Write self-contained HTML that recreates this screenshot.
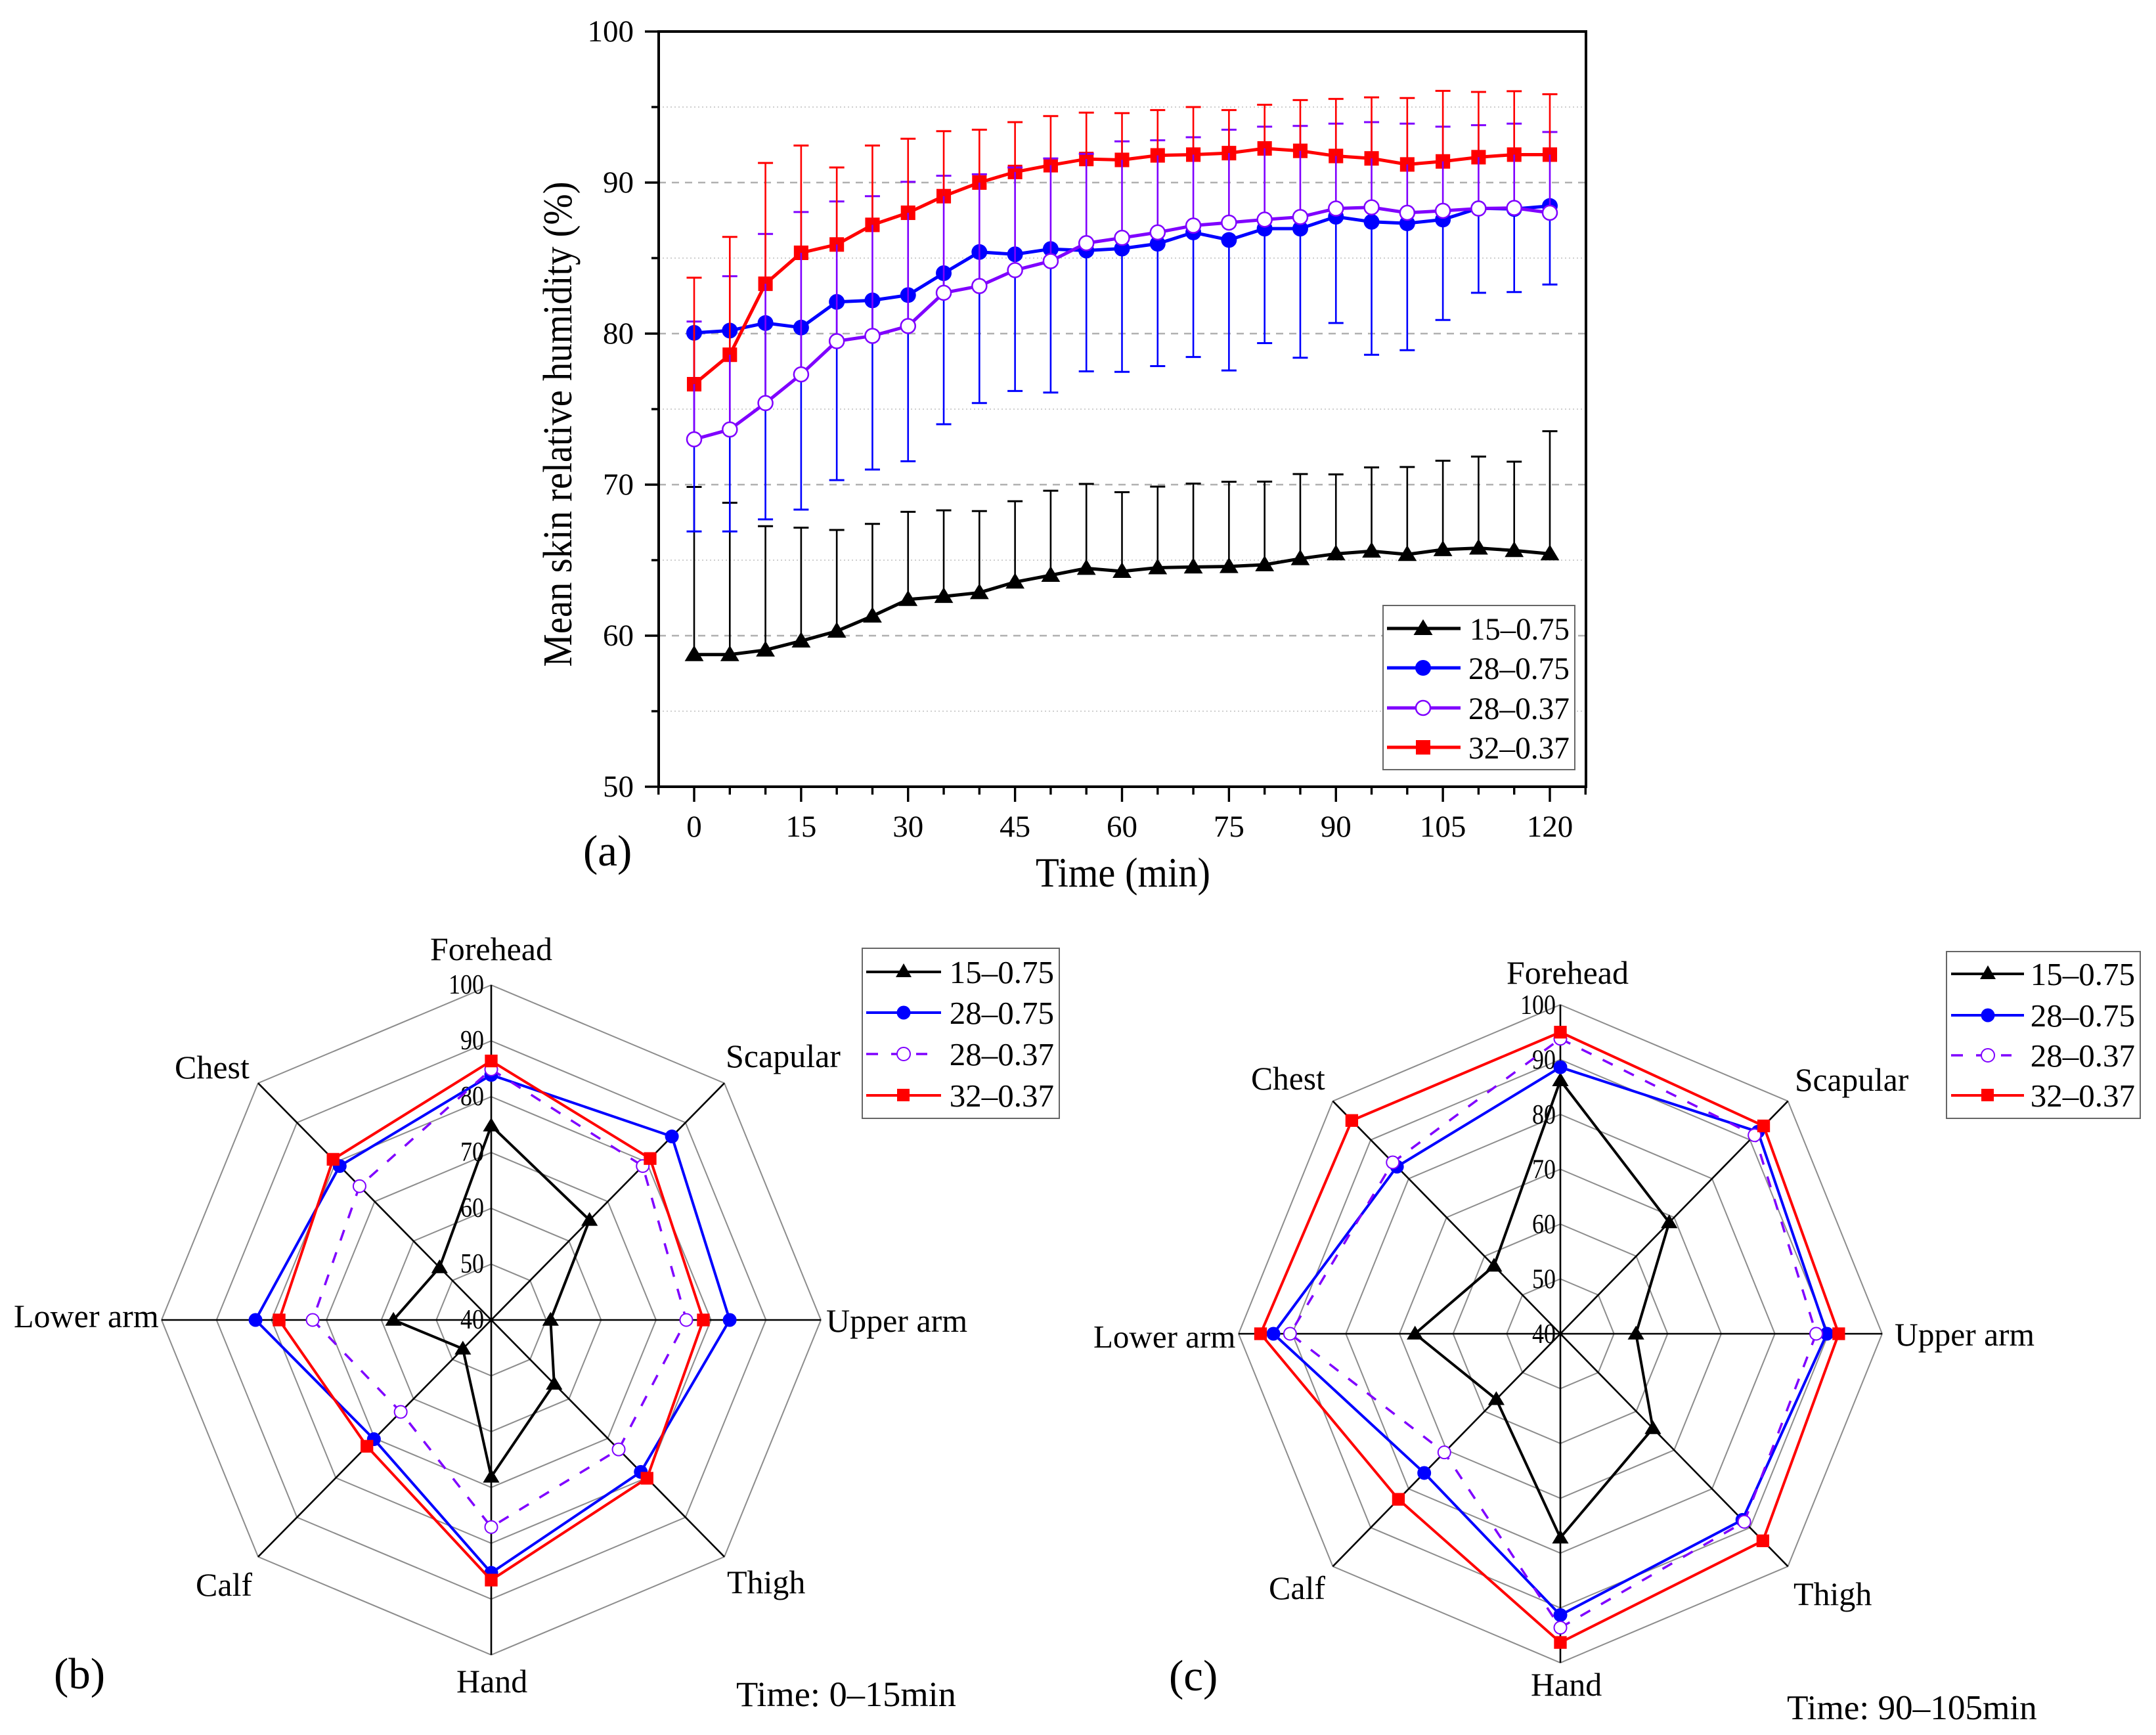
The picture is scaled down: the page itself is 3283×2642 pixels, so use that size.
<!DOCTYPE html>
<html lang="en">
<head>
<meta charset="utf-8">
<title>Mean skin relative humidity</title>
<style>
html,body{margin:0;padding:0;background:#fff}
svg{display:block}
text{font-family:"Liberation Serif",serif;fill:#000}
</style>
</head>
<body>
<svg id="figure" xmlns="http://www.w3.org/2000/svg" width="3283" height="2642" viewBox="0 0 3283 2642">
  <rect x="0" y="0" width="3283" height="2642" fill="#fff"/>

  <g id="panel-a"></g>
  <text transform="translate(870,646) rotate(-90)" text-anchor="middle" font-size="62" textLength="739" lengthAdjust="spacingAndGlyphs">Mean skin relative humidity (%)</text>
  <text x="1710" y="1350" text-anchor="middle" font-size="63" textLength="266" lengthAdjust="spacingAndGlyphs">Time (min)</text>
  <text x="888" y="1318" font-size="67">(a)</text>

  <g>
    <rect x="2106" y="922" width="292" height="250" fill="#fff" stroke="#666" stroke-width="2"/>
    <g>
      <line x1="2112" x2="2224" y1="957" y2="957" stroke="#000" stroke-width="5"/>
      <polygon points="2167,943 2181.5,967 2152.5,967" fill="#000"/>
      <text x="2390" y="974" text-anchor="end" font-size="48" textLength="152" lengthAdjust="spacingAndGlyphs">15–0.75</text>
    </g>
    <g>
      <line x1="2112" x2="2224" y1="1017" y2="1017" stroke="#00f" stroke-width="5"/>
      <ellipse cx="2167" cy="1017" rx="12" ry="12" fill="#00f"/>
      <text x="2390" y="1034" text-anchor="end" font-size="48" textLength="154" lengthAdjust="spacingAndGlyphs">28–0.75</text>
    </g>
    <g>
      <line x1="2112" x2="2224" y1="1078" y2="1078" stroke="#7f00ff" stroke-width="5"/>
      <ellipse cx="2167" cy="1078" rx="11" ry="11" fill="#fff" stroke="#7f00ff" stroke-width="2.5"/>
      <text x="2390" y="1095" text-anchor="end" font-size="48" textLength="154" lengthAdjust="spacingAndGlyphs">28–0.37</text>
    </g>
    <g>
      <line x1="2112" x2="2224" y1="1138" y2="1138" stroke="#f00" stroke-width="5"/>
      <rect x="2156" y="1127" width="22" height="22" fill="#f00"/>
      <text x="2390" y="1155" text-anchor="end" font-size="48" textLength="154" lengthAdjust="spacingAndGlyphs">32–0.37</text>
    </g>
  </g>

  <g id="panel-b"></g>
  <text x="748" y="1462" text-anchor="middle" font-size="50">Forehead</text>
  <text x="1105" y="1625" font-size="50">Scapular</text>
  <text x="1258" y="2028" font-size="50">Upper arm</text>
  <text x="1107" y="2426" font-size="50">Thigh</text>
  <text x="695" y="2577" font-size="50">Hand</text>
  <text x="298" y="2430" font-size="50">Calf</text>
  <text x="21" y="2021" font-size="50">Lower arm</text>
  <text x="266" y="1642" font-size="50">Chest</text>
  <text x="82" y="2571" font-size="67">(b)</text>
  <text x="1121" y="2598" font-size="54.4">Time: 0–15min</text>

  <g>
    <rect x="1313" y="1444" width="300" height="259" fill="#fff" stroke="#666" stroke-width="2"/>
    <g>
      <line x1="1319" x2="1433" y1="1480" y2="1480" stroke="#000" stroke-width="4"/>
      <polygon points="1376,1467 1388,1488 1364,1488" fill="#000"/>
      <text x="1605" y="1497" text-anchor="end" font-size="49">15–0.75</text>
    </g>
    <g>
      <line x1="1319" x2="1433" y1="1542" y2="1542" stroke="#00f" stroke-width="4"/>
      <circle cx="1376" cy="1542" r="10.5" fill="#00f"/>
      <text x="1605" y="1559" text-anchor="end" font-size="49">28–0.75</text>
    </g>
    <g>
      <line x1="1319" x2="1412" y1="1605" y2="1605" stroke="#7f00ff" stroke-width="3.5" stroke-dasharray="18 20"/>
      <circle cx="1376" cy="1605" r="10" fill="#fff" stroke="#7f00ff" stroke-width="2"/>
      <text x="1605" y="1622" text-anchor="end" font-size="49">28–0.37</text>
    </g>
    <g>
      <line x1="1319" x2="1433" y1="1668" y2="1668" stroke="#f00" stroke-width="4"/>
      <rect x="1366" y="1658" width="19" height="19" fill="#f00"/>
      <text x="1605" y="1685" text-anchor="end" font-size="49">32–0.37</text>
    </g>
  </g>

  <g id="panel-c"></g>
  <text x="2387" y="1498" text-anchor="middle" font-size="50">Forehead</text>
  <text x="2733" y="1661" font-size="49.5">Scapular</text>
  <text x="2885" y="2049" font-size="49.5">Upper arm</text>
  <text x="2731" y="2444" font-size="50">Thigh</text>
  <text x="2331" y="2582" font-size="50">Hand</text>
  <text x="1932" y="2435" font-size="50">Calf</text>
  <text x="1665" y="2052" font-size="49">Lower arm</text>
  <text x="1905" y="1659" font-size="49.5">Chest</text>
  <text x="1780" y="2574" font-size="67">(c)</text>
  <text x="2721" y="2618" font-size="53.2">Time: 90–105min</text>

  <g>
    <rect x="2964" y="1449" width="295" height="254" fill="#fff" stroke="#666" stroke-width="2"/>
    <g>
      <line x1="2971" x2="3082" y1="1483" y2="1483" stroke="#000" stroke-width="4"/>
      <polygon points="3027,1470 3039,1491 3015,1491" fill="#000"/>
      <text x="3251" y="1500" text-anchor="end" font-size="49">15–0.75</text>
    </g>
    <g>
      <line x1="2971" x2="3082" y1="1546" y2="1546" stroke="#00f" stroke-width="4"/>
      <circle cx="3027" cy="1546" r="10.5" fill="#00f"/>
      <text x="3251" y="1563" text-anchor="end" font-size="49">28–0.75</text>
    </g>
    <g>
      <line x1="2971" x2="3063" y1="1607" y2="1607" stroke="#7f00ff" stroke-width="3.5" stroke-dasharray="18 20"/>
      <circle cx="3027" cy="1607" r="10" fill="#fff" stroke="#7f00ff" stroke-width="2"/>
      <text x="3251" y="1624" text-anchor="end" font-size="49">28–0.37</text>
    </g>
    <g>
      <line x1="2971" x2="3082" y1="1668" y2="1668" stroke="#f00" stroke-width="4"/>
      <rect x="3017" y="1658" width="19" height="19" fill="#f00"/>
      <text x="3251" y="1685" text-anchor="end" font-size="49">32–0.37</text>
    </g>
  </g>
</svg>

<script>
// ---- Panel (a) data ----
const times = [0,5,10,15,20,25,30,35,40,45,50,55,60,65,70,75,80,85,90,95,100,105,110,115,120];
const xTickLabels = [0,15,30,45,60,75,90,105,120];
const xMinorTicks = [-5,5,10,20,25,35,40,50,55,65,70,80,85,95,100,110,115,125];
const yTickLabels = [50,60,70,80,90,100];
const yMinorTicks = [55,65,75,85,95];

const blackMean = [58.75,58.75,59.05,59.65,60.3,61.3,62.4,62.6,62.85,63.55,64.0,64.46,64.26,64.5,64.55,64.58,64.7,65.1,65.42,65.6,65.38,65.7,65.8,65.64,65.42];
const blackUpper = [69.85,68.8,67.25,67.15,67.0,67.4,68.2,68.3,68.25,68.9,69.6,70.05,69.5,69.87,70.07,70.19,70.2,70.7,70.68,71.14,71.17,71.58,71.86,71.52,73.54];
const blueMean = [80.05,80.2,80.7,80.4,82.1,82.2,82.55,84.0,85.4,85.25,85.6,85.5,85.63,85.95,86.7,86.2,86.95,86.95,87.74,87.4,87.3,87.55,88.3,88.25,88.45];
const blueLower = [66.9,66.9,67.7,68.35,70.3,71.0,71.55,74.0,75.4,76.2,76.1,77.5,77.47,77.85,78.45,77.56,79.37,78.4,80.7,78.6,78.9,80.9,82.7,82.75,83.25];
const purpleMean = [73.0,73.65,75.4,77.3,79.5,79.85,80.5,82.7,83.15,84.2,84.8,85.99,86.34,86.7,87.15,87.35,87.55,87.72,88.28,88.36,88.0,88.13,88.28,88.32,88.0];
const purpleUpper = [80.8,83.8,86.6,88.05,88.75,89.1,90.05,90.45,90.55,91.0,91.6,91.9,92.73,92.8,93.0,93.5,93.7,93.75,93.9,94.0,93.9,93.7,93.8,93.9,93.35];
const redMean = [76.65,78.6,83.3,85.35,85.9,87.2,88.0,89.1,90.0,90.7,91.15,91.56,91.5,91.8,91.85,91.95,92.26,92.1,91.76,91.6,91.2,91.4,91.68,91.85,91.85];
const redUpper = [83.7,86.4,91.3,92.45,91.0,92.45,92.9,93.4,93.5,94.0,94.4,94.63,94.6,94.8,95.0,94.8,95.15,95.46,95.54,95.64,95.6,96.07,96.0,96.05,95.85];

// ---- Radar data (axes clockwise from the top) ----
const radarAxes = ['forehead','scapular','upper-arm','thigh','hand','calf','lower-arm','chest'];
const radarRings = [50,60,70,80,90,100];
const radarTickLabels = [40,50,60,70,80,90,100];

const bBlack = [74.8,65.3,50.8,56.2,68.1,47.3,57.8,53.3];
const bBlue = [83.9,86.5,83.4,78.5,85.3,70.2,82.9,79.0];
const bPurple = [84.9,79.0,75.5,72.8,77.1,63.3,72.5,73.9];
const bRed = [86.4,80.9,78.6,80.1,86.6,72.0,78.6,80.7];

const cBlack = [86.2,68.7,54.1,64.4,77.2,56.9,67.1,57.5];
const cBlue = [88.6,92.1,89.7,88.0,91.3,75.9,93.5,83.1];
const cPurple = [93.8,91.2,87.7,88.5,93.6,70.6,90.4,84.2];
const cRed = [95.0,93.6,91.9,93.4,96.3,82.7,95.9,95.0];

// ---- Helpers ----
const SVGNS = 'http://www.w3.org/2000/svg';
function mk(tag, attrs, parent) {
  const e = document.createElementNS(SVGNS, tag);
  for (const k in attrs) e.setAttribute(k, attrs[k]);
  parent.appendChild(e);
  return e;
}
const BLACK = '#000000', BLUE = '#0000ff', PURPLE = '#7f00ff', RED = '#ff0000';

function marker(kind, x, y, size, color, parent, strokeW) {
  let m;
  if (kind === 'triangle') {
    const top = size * 1.17, bot = size * 0.83, hw = size * 1.2;
    m = mk('polygon', {points: x + ',' + (y - top) + ' ' + (x + hw) + ',' + (y + bot) + ' ' + (x - hw) + ',' + (y + bot), fill: color}, parent);
  } else if (kind === 'circle') {
    m = mk('circle', {cx: x, cy: y, r: size, fill: color}, parent);
  } else if (kind === 'open') {
    m = mk('circle', {cx: x, cy: y, r: size - 1, fill: '#ffffff', stroke: color, 'stroke-width': strokeW}, parent);
  } else {
    m = mk('rect', {x: x - size * 0.92, y: y - size * 0.92, width: size * 1.84, height: size * 1.84, fill: color}, parent);
  }
  return m;
}

// ---- Panel (a) ----
const xScale = t => 1057 + t * (2360 - 1057) / 120;
const yScale = v => 48 + (100 - v) * 23;
const plotLeft = 1003, plotRight = 2415, plotTop = 48, plotBottom = 1198;

const panelA = document.getElementById('panel-a');

yMinorTicks.forEach(v => {
  const g = mk('line', {x1: plotLeft, x2: plotRight, y1: yScale(v), y2: yScale(v), stroke: '#cfcfcf', 'stroke-width': 2, 'stroke-dasharray': '2 4'}, panelA);
  
  
});
yTickLabels.filter(v => v !== 50 && v !== 100).forEach(v => {
  const g = mk('line', {x1: plotLeft, x2: plotRight, y1: yScale(v), y2: yScale(v), stroke: '#b0b0b0', 'stroke-width': 2.5, 'stroke-dasharray': '11 9'}, panelA);
  
  
});

function seriesLine(vals, color, name, parent, w) {
  const pts = times.map((t, i) => xScale(t) + ',' + yScale(vals[i])).join(' ');
  const l = mk('polyline', {points: pts, fill: 'none', stroke: color, 'stroke-width': w, 'stroke-linejoin': 'round'}, parent);
  
  
}
function seriesMarkers(vals, kind, size, color, name, parent) {
  times.forEach((t, i) => {
    const m = marker(kind, xScale(t), yScale(vals[i]), size, color, parent, 2.5);
    
    
  });
}
function errorBars(means, ends, color, name, parent) {
  times.forEach((t, i) => {
    const x = xScale(t);
    const stem = mk('line', {x1: x, x2: x, y1: yScale(means[i]), y2: yScale(ends[i]), stroke: color, 'stroke-width': 2.6}, parent);
    
    
    const cap = mk('line', {x1: x - 11.5, x2: x + 11.5, y1: yScale(ends[i]), y2: yScale(ends[i]), stroke: color, 'stroke-width': 3}, parent);
    
    
  });
}

errorBars(blackMean, blackUpper, BLACK, 'error-bar-15-0.75', panelA);
seriesLine(blackMean, BLACK, 'line-15-0.75', panelA, 5);
seriesMarkers(blackMean, 'triangle', 12, BLACK, 'point-15-0.75', panelA);
seriesLine(blueMean, BLUE, 'line-28-0.75', panelA, 5);
seriesMarkers(blueMean, 'circle', 12, BLUE, 'point-28-0.75', panelA);
seriesLine(redMean, RED, 'line-32-0.37', panelA, 5);
seriesMarkers(redMean, 'square', 12, RED, 'point-32-0.37', panelA);
errorBars(blueMean, blueLower, BLUE, 'error-bar-28-0.75', panelA);
errorBars(purpleMean, purpleUpper, PURPLE, 'error-bar-28-0.37', panelA);
errorBars(redMean, redUpper, RED, 'error-bar-32-0.37', panelA);
seriesLine(purpleMean, PURPLE, 'line-28-0.37', panelA, 5);
seriesMarkers(purpleMean, 'open', 12, PURPLE, 'point-28-0.37', panelA);

// axes frame
[[plotLeft, plotTop, plotLeft, plotBottom, 'left-axis'], [plotRight, plotTop, plotRight, plotBottom, 'right-axis'], [plotLeft - 2, plotTop, plotRight + 2, plotTop, 'top-axis'], [plotLeft - 2, plotBottom, plotRight + 2, plotBottom, 'bottom-axis']].forEach(a => {
  const l = mk('line', {x1: a[0], y1: a[1], x2: a[2], y2: a[3], stroke: '#000', 'stroke-width': 4}, panelA);
  
  
});
xTickLabels.forEach(t => {
  const x = xScale(t);
  const tk = mk('line', {x1: x, x2: x, y1: plotBottom, y2: plotBottom + 23, stroke: '#000', 'stroke-width': 3.4}, panelA);
  
  
  const tx = mk('text', {x: x, y: 1274, 'text-anchor': 'middle', 'font-size': 47}, panelA);
  tx.textContent = t;
  
  
});
xMinorTicks.forEach(t => {
  const x = xScale(t);
  const tk = mk('line', {x1: x, x2: x, y1: plotBottom, y2: plotBottom + 12, stroke: '#000', 'stroke-width': 3.4}, panelA);
  
  
});
yTickLabels.forEach(v => {
  const y = yScale(v);
  const tk = mk('line', {x1: plotLeft - 21, x2: plotLeft, y1: y, y2: y, stroke: '#000', 'stroke-width': 3.4}, panelA);
  
  
  const tx = mk('text', {x: 965, y: y + 15, 'text-anchor': 'end', 'font-size': 47}, panelA);
  tx.textContent = v;
  
  
});
yMinorTicks.forEach(v => {
  const y = yScale(v);
  const tk = mk('line', {x1: plotLeft - 11, x2: plotLeft, y1: y, y2: y, stroke: '#000', 'stroke-width': 3.4}, panelA);
  
  
});

// ---- Radar panels ----
function radarChart(parent, prefix, cx, cy, rx, ry, labelX, labelDy, series) {
  const pt = (i, v) => {
    const f = (v - 40) / 60, a = i * Math.PI / 4;
    return [cx + rx * f * Math.sin(a), cy - ry * f * Math.cos(a)];
  };
  radarRings.forEach(r => {
    const pts = radarAxes.map((_, i) => pt(i, r).join(',')).join(' ');
    const ring = mk('polygon', {points: pts, fill: 'none', stroke: '#8c8c8c', 'stroke-width': 2}, parent);
    
    
  });
  radarAxes.forEach((name, i) => {
    const e = pt(i, 100);
    const ax = mk('line', {x1: cx, y1: cy, x2: e[0], y2: e[1], stroke: '#000', 'stroke-width': 2.6}, parent);
    
    
  });
  radarTickLabels.forEach(v => {
    const tx = mk('text', {x: labelX, y: pt(0, v)[1] + labelDy, 'text-anchor': 'end', 'font-size': 42, textLength: String(v).length * 18, lengthAdjust: 'spacingAndGlyphs'}, parent);
    tx.textContent = v;
    
    
  });
  series.forEach(s => {
    const pts = s.vals.map((v, i) => pt(i, v).join(',')).join(' ');
    const poly = mk('polygon', {points: pts, fill: 'none', stroke: s.color, 'stroke-width': s.dash ? 3.5 : 4, 'stroke-linejoin': 'round'}, parent);
    if (s.dash) poly.setAttribute('stroke-dasharray', s.dash);
    
    
    s.vals.forEach((v, i) => {
      const p = pt(i, v);
      const m = marker(s.kind, p[0], p[1], 10.5, s.color, parent, 2);
      
      
    });
  });
}

radarChart(document.getElementById('panel-b'), 'radar-b', 748, 2010, 502, 510, 737, 13, [
  {key: '15-0.75', vals: bBlack, color: BLACK, kind: 'triangle'},
  {key: '28-0.75', vals: bBlue, color: BLUE, kind: 'circle'},
  {key: '28-0.37', vals: bPurple, color: PURPLE, kind: 'open', dash: '17 19'},
  {key: '32-0.37', vals: bRed, color: RED, kind: 'square'}
]);
radarChart(document.getElementById('panel-c'), 'radar-c', 2376, 2031, 490, 501, 2369, 14, [
  {key: '15-0.75', vals: cBlack, color: BLACK, kind: 'triangle'},
  {key: '28-0.75', vals: cBlue, color: BLUE, kind: 'circle'},
  {key: '28-0.37', vals: cPurple, color: PURPLE, kind: 'open', dash: '17 19'},
  {key: '32-0.37', vals: cRed, color: RED, kind: 'square'}
]);
</script>
</body>
</html>
